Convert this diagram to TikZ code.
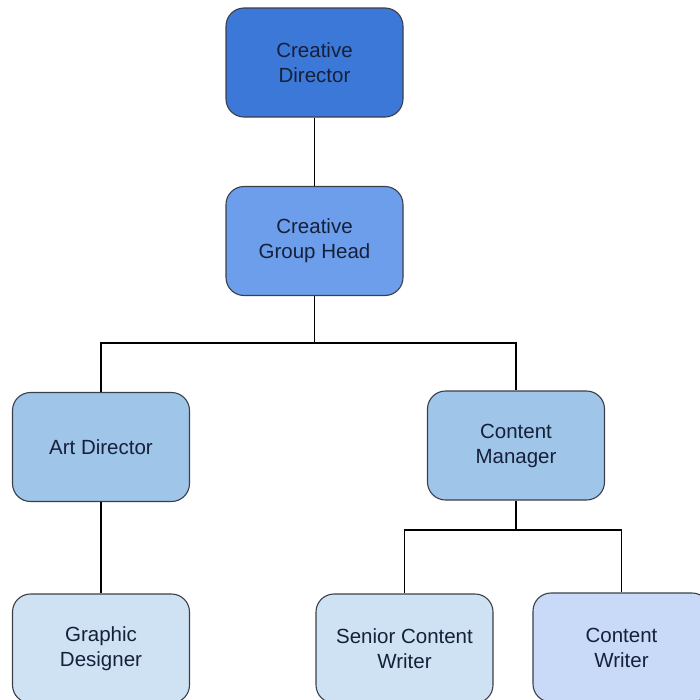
\documentclass[tikz,border=0pt]{standalone}
\usepackage{fontspec}
\setmainfont{Liberation Sans}
\definecolor{cdcol}{HTML}{3C78D8}
\definecolor{cghcol}{HTML}{6D9EEB}
\definecolor{midcol}{HTML}{9FC5E8}
\definecolor{lightcol}{HTML}{CFE2F3}
\definecolor{cwcol}{HTML}{C9DAF8}
\definecolor{txtcol}{HTML}{16203A}
\definecolor{edgecol}{HTML}{3A3F4A}
\begin{document}
\begin{tikzpicture}[x=1pt,y=-1pt,
  orgbox/.style={draw=edgecol, line width=1.1pt, rounded corners=18pt,
    minimum width=177pt, minimum height=109pt, align=center,
    text=txtcol, font=\fontsize{20.5}{25}\selectfont, inner sep=0pt},
  link/.style={draw=black, line width=1.3pt}]
\useasboundingbox (0,0) rectangle (700,699);
\clip (0,0) rectangle (700,699);
\fill[white] (0,0) rectangle (700,699);
\node[orgbox, fill=cdcol] (cd) at (314.5,62.5) {Creative\\Director};
\node[orgbox, fill=cghcol] (cgh) at (314.5,241) {Creative\\Group Head};
\node[orgbox, fill=midcol] (ad) at (101,447) {Art Director};
\node[orgbox, fill=midcol] (cm) at (516,445.5) {Content\\Manager};
\node[orgbox, fill=lightcol] (gd) at (101,648.5) {Graphic\\Designer};
\node[orgbox, fill=lightcol] (scw) at (404.5,648.5) {Senior Content\\Writer};
\node[orgbox, fill=cwcol] (cw) at (621.5,647.5) {Content\\Writer};
\coordinate (j1) at (314.5,343);
\coordinate (j2) at (516,530);
\draw[link] (cd) -- (cgh);
\draw[link] (cgh) -- (j1);
\draw[link] (j1) -| (ad);
\draw[link] (j1) -| (cm);
\draw[link] (ad) -- (gd);
\draw[link] (cm) -- (j2);
\draw[link] (j2) -| (scw);
\draw[link] (j2) -| (cw);
\end{tikzpicture}
\end{document}
